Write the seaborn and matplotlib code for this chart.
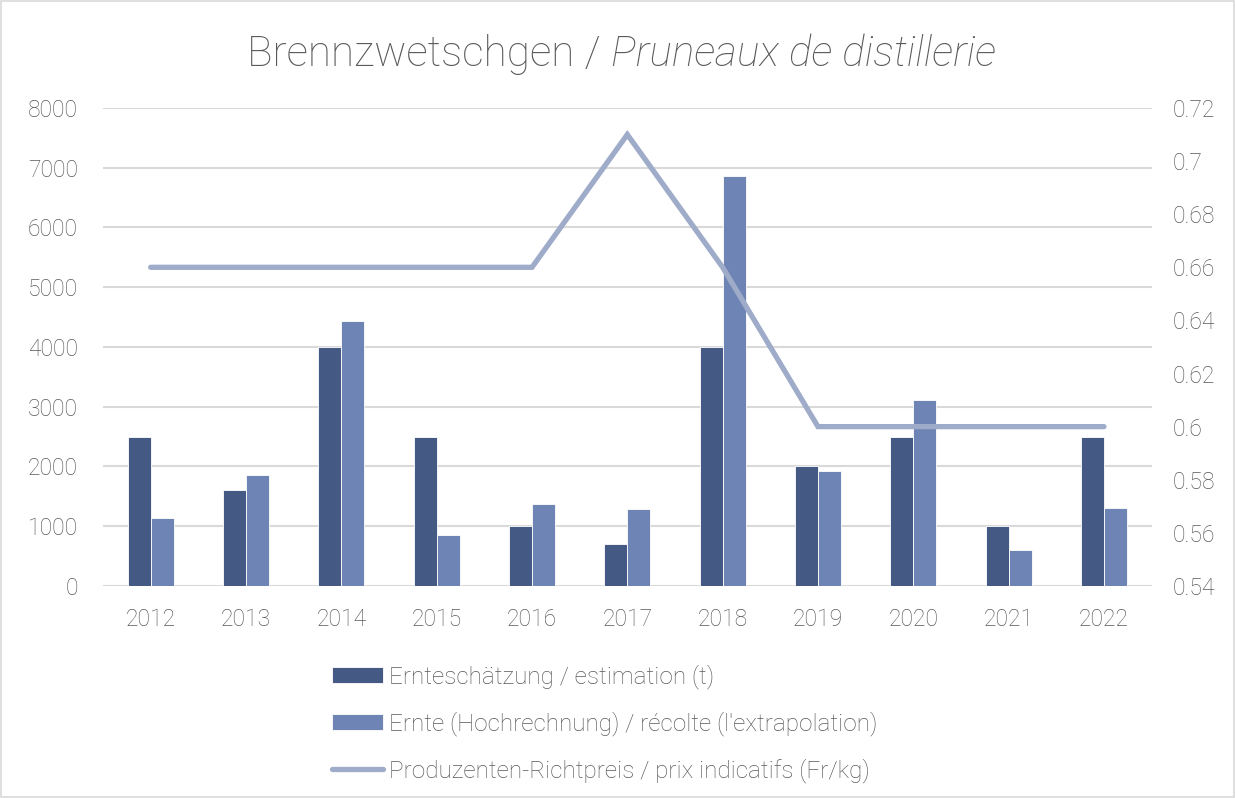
import matplotlib
matplotlib.use("Agg")
import matplotlib.pyplot as plt
import seaborn as sns
import pandas as pd
import numpy as np
from matplotlib.patches import Rectangle

years = ["2012", "2013", "2014", "2015", "2016", "2017", "2018", "2019", "2020", "2021", "2022"]
estimation = [2500, 1600, 4000, 2500, 1000, 700, 4000, 2000, 2500, 1000, 2500]
harvest = [1140, 1860, 4430, 850, 1380, 1280, 6860, 1920, 3120, 600, 1300]
price = [0.66, 0.66, 0.66, 0.66, 0.66, 0.71, 0.66, 0.60, 0.60, 0.60, 0.60]

lbl_est = "Ernteschätzung / estimation (t)"
lbl_har = "Ernte (Hochrechnung) / récolte (l'extrapolation)"
lbl_price = "Produzenten-Richtpreis / prix indicatifs (Fr/kg)"

c_dark = "#445a84"
c_light = "#6d84b4"
c_line = "#9eabc9"
c_text = "#595959"
c_grid = "#d9d9d9"

sns.set_theme(style="white")
plt.rcParams['font.family'] = ['Roboto', 'DejaVu Sans']
plt.rcParams['font.weight'] = 'light'

df = pd.DataFrame({
    "year": years * 2,
    "value": estimation + harvest,
    "series": [lbl_est] * len(years) + [lbl_har] * len(years),
})

fig = plt.figure(figsize=(12.35, 7.98), dpi=100)
ax = fig.add_axes([0.0834, 0.2657, 0.8491, 0.599])

sns.barplot(data=df, x="year", y="value", hue="series", order=years,
            hue_order=[lbl_est, lbl_har], palette=[c_dark, c_light], saturation=1,
            width=0.48, gap=0, edgecolor="white", linewidth=0.6, ax=ax,
            legend=True)
ax.set_xlim(-0.5, len(years) - 0.5)
ax.set_ylim(0, 8000)
ax.set_yticks(range(0, 8001, 1000))
ax.yaxis.grid(True, color=c_grid, linewidth=1.5)
ax.set_axisbelow(True)
ax.set_xlabel("")
ax.set_ylabel("")
for s in ax.spines.values():
    s.set_visible(False)
ax.tick_params(axis="both", length=0, labelsize=16.5, labelcolor=c_text)
ax.tick_params(axis="y", pad=18)
ax.tick_params(axis="x", pad=16)

ax2 = ax.twinx()
sns.lineplot(x=np.arange(len(years)), y=price, color=c_line, linewidth=3.8,
             solid_capstyle="round", solid_joinstyle="miter", ax=ax2, label=lbl_price, legend=False)
ax2.set_ylim(0.54, 0.72)
ax2.set_yticks([0.54, 0.56, 0.58, 0.60, 0.62, 0.64, 0.66, 0.68, 0.70, 0.72])
ax2.set_yticklabels(["0.54", "0.56", "0.58", "0.6", "0.62", "0.64", "0.66", "0.68", "0.7", "0.72"])
for s in ax2.spines.values():
    s.set_visible(False)
ax2.tick_params(axis="y", length=0, labelsize=16.5, labelcolor=c_text, pad=15)
ax2.set_ylabel("")
ax2.grid(False)

h1, l1 = ax.get_legend_handles_labels()
h2, l2 = ax2.get_legend_handles_labels()
ax.get_legend().remove()
leg = fig.legend(h1 + h2, l1 + l2, loc="upper left", bbox_to_anchor=(0.2607, 0.1795),
                 frameon=False, fontsize=17.5, handlelength=2.1, handleheight=0.65,
                 handletextpad=0.25, labelspacing=0.91, borderaxespad=0)
for t in leg.get_texts():
    t.set_color(c_text)

t1 = fig.text(0.0, 0.0, "Brennzwetschgen / ", fontsize=30.5, color=c_text, va="center")
t2 = fig.text(0.0, 0.0, "Pruneaux de distillerie", fontsize=30.5, color=c_text,
              style="italic", va="center")
fig.canvas.draw()
r = fig.canvas.get_renderer()
w1 = t1.get_window_extent(r).width / fig.bbox.width
w2 = t2.get_window_extent(r).width / fig.bbox.width
x0 = 0.5035 - (w1 + w2) / 2
t1.set_position((x0, 0.932))
t2.set_position((x0 + w1, 0.932))

fig.patches.append(Rectangle((0.001, 0.001), 0.998, 0.998, transform=fig.transFigure,
                             fill=False, edgecolor="#d9d9d9", linewidth=1.2))

fig.savefig("out.png", dpi=100)
